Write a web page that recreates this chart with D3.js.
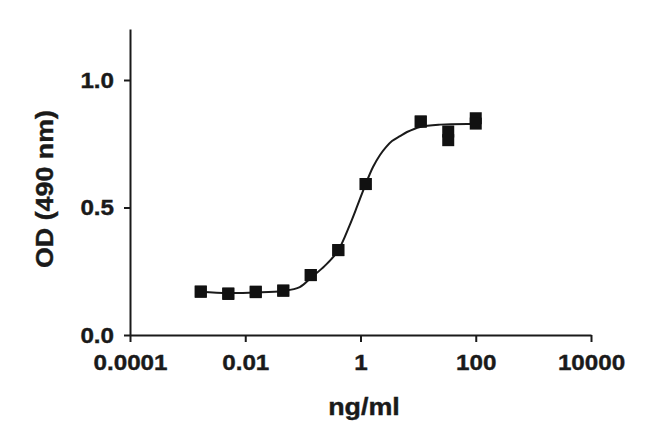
<!DOCTYPE html>
<html>
<head>
<meta charset="utf-8">
<script src="https://cdn.jsdelivr.net/npm/d3@7"></script>
<style>
  html, body { margin: 0; padding: 0; background: #fff; }
  svg { display: block; }
  text { font-family: "Liberation Sans", Arial, sans-serif; font-weight: bold; fill: #1a1a1a; }
</style>
</head>
<body>
<svg id="chart" width="650" height="441"></svg>
<script>
// ---- data ----
const concentrations = [0.00169, 0.00508, 0.0152, 0.0457, 0.137, 0.412, 1.23, 11.1, 33.3, 100];
const odRep1 = [0.170, 0.161, 0.170, 0.174, 0.235, 0.333, 0.592, 0.837, 0.798, 0.850];
const odRep2 = [0.170, 0.163, 0.168, 0.174, 0.235, 0.333, 0.592, 0.837, 0.764, 0.829];
const fitConc = [0.00169, 0.0050, 0.0153, 0.0449, 0.0883, 0.1426, 0.24, 0.403, 0.650, 0.893, 1.23, 1.648, 2.18, 2.77, 3.52, 4.85, 6.41, 10.78, 24.0, 100];
const fitOD   = [0.170, 0.165, 0.167, 0.173, 0.188, 0.227, 0.271, 0.329, 0.431, 0.510, 0.592, 0.659, 0.706, 0.737, 0.761, 0.780, 0.796, 0.816, 0.825, 0.827];
const xTickValues = [0.0001, 0.01, 1, 100, 10000];
const xTickLabels = ["0.0001", "0.01", "1", "100", "10000"];
const yTickValues = [0.0, 0.5, 1.0];
const yTickLabels = ["0.0", "0.5", "1.0"];
const xTitle = "ng/ml";
const yTitle = "OD (490 nm)";

const svg = d3.select("#chart");
const x = d3.scaleLog().domain([0.0001, 10000]).range([130, 591]);
const y = d3.scaleLinear().domain([0, 1.2]).range([335, 29]);
const ink = "#1a1a1a";

// axes
const xAxis = svg.append("g").attr("transform", "translate(0,335)")
  .call(d3.axisBottom(x).tickValues(xTickValues)
    .tickFormat((d, i) => xTickLabels[i]).tickSize(7).tickSizeOuter(0).tickPadding(12));
const yAxis = svg.append("g").attr("transform", "translate(130,0)")
  .call(d3.axisLeft(y).tickValues(yTickValues)
    .tickFormat((d, i) => yTickLabels[i]).tickSize(6).tickSizeOuter(0).tickPadding(8.5));

[xAxis, yAxis].forEach(g => {
  g.select(".domain").attr("stroke", ink).attr("stroke-width", 2);
  g.selectAll(".tick line").attr("stroke", ink).attr("stroke-width", 2);
  g.selectAll(".tick text").attr("font-size", 22).attr("fill", ink)
    .attr("stroke", ink).attr("stroke-width", 0.4)
    .style("font-family", "'Liberation Sans', Arial, sans-serif").style("font-weight", "bold")
    .attr("transform", "scale(1.1,1)");
});

// titles
svg.append("text").attr("x", 364 / 1.12).attr("y", 415)
  .attr("transform", "scale(1.12,1)")
  .attr("stroke", ink).attr("stroke-width", 0.4)
  .attr("text-anchor", "middle").attr("font-size", 24).text(xTitle);
svg.append("text").attr("transform", "translate(53,189) rotate(-90)")
  .attr("stroke", ink).attr("stroke-width", 0.4)
  .attr("text-anchor", "middle").attr("font-size", 24)
  .attr("textLength", 158).attr("lengthAdjust", "spacingAndGlyphs").text(yTitle);

// fitted curve
const line = d3.line().x((d, i) => x(fitConc[i])).y(d => y(d)).curve(d3.curveCatmullRom.alpha(0.5));
svg.append("path").datum(fitOD).attr("d", line)
  .attr("fill", "none").attr("stroke", ink).attr("stroke-width", 2);

// points
const ms = 12;
[odRep1, odRep2].forEach(rep => {
  svg.append("g").selectAll("rect").data(rep).join("rect")
    .attr("x", (d, i) => x(concentrations[i]) - ms / 2)
    .attr("y", d => y(d) - ms / 2)
    .attr("width", ms).attr("height", ms).attr("fill", "#111");
});
</script>
</body>
</html>
